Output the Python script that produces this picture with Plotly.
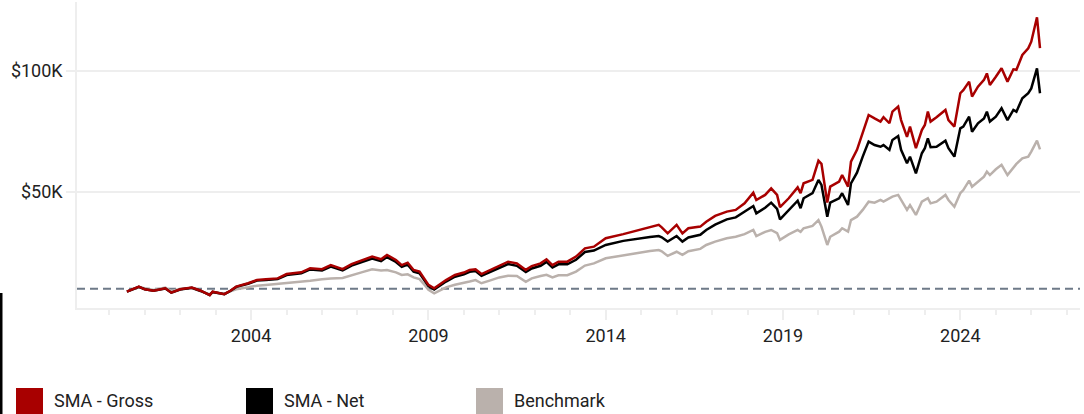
import plotly.graph_objects as go

# ---------------- data (values in $ thousands) ----------------
dates = [
    "2000-07", "2000-11", "2001-01", "2001-04", "2001-08", "2001-10", "2002-01", "2002-05",
    "2002-08", "2002-11", "2002-12", "2003-04", "2003-06", "2003-08", "2003-12", "2004-03",
    "2004-06", "2004-10", "2005-01", "2005-06", "2005-09", "2006-01", "2006-04", "2006-08",
    "2006-11",
    "2007-03", "2007-06", "2007-09", "2007-11", "2008-02", "2008-04", "2008-06", "2008-08",
    "2008-10", "2008-12", "2009-01", "2009-03", "2009-05", "2009-07", "2009-10", "2010-01",
    "2010-03", "2010-05", "2010-07", "2010-10", "2011-01", "2011-04", "2011-07", "2011-10",
    "2011-12", "2012-03", "2012-05", "2012-07", "2012-09", "2012-12", "2013-03", "2013-06",
    "2013-09",
    "2014-01", "2014-07", "2014-10", "2015-01", "2015-04", "2015-07", "2015-08", "2015-10",
    "2016-01", "2016-03", "2016-05", "2016-09", "2016-11", "2017-02", "2017-06", "2017-09",
    "2017-12", "2018-03", "2018-04", "2018-07", "2018-09", "2018-11", "2018-12", "2019-03",
    "2019-06", "2019-07", "2019-08", "2019-11",
    "2020-01", "2020-02", "2020-04", "2020-05", "2020-08", "2020-09", "2020-11", "2020-12",
    "2021-02", "2021-04", "2021-06", "2021-08", "2021-10", "2021-11", "2022-01", "2022-02",
    "2022-04", "2022-05", "2022-07", "2022-08", "2022-10", "2022-12", "2023-01", "2023-02",
    "2023-03", "2023-05", "2023-08", "2023-09", "2023-11", "2024-01", "2024-02", "2024-04",
    "2024-05", "2024-07", "2024-09", "2024-10", "2024-11", "2025-01", "2025-03", "2025-05",
    "2025-07", "2025-08", "2025-10", "2025-12", "2026-01", "2026-03", "2026-04",
]

sma_gross = [
    8.8, 10.9, 9.8, 9.2, 10.2, 8.4, 9.8, 10.5, 9.2, 7.4, 8.8, 7.8, 9.2, 10.9, 12.3, 13.6,
    13.9, 14.3, 16.1, 16.8, 18.5, 18.1, 19.8, 18.1, 20.2,
    21.9, 23.3, 22.2, 24.0, 21.9, 19.8, 20.8, 17.8, 17.1, 13.6, 11.6, 10.2, 12.0, 13.6, 15.7,
    16.7, 17.8, 18.1, 16.1, 17.8, 19.8, 21.2, 20.5, 17.8, 19.4, 20.5, 22.2, 19.8, 21.2, 21.2,
    23.3, 26.7, 27.4,
    30.9, 32.6, 33.6, 34.6, 35.4, 36.4, 35.4, 32.9, 36.4, 32.9, 35.0, 35.7, 37.7, 40.1, 41.9,
    42.6, 45.3, 49.7, 46.7, 48.8, 51.5, 48.8, 43.7, 47.4, 51.9, 49.5, 53.6, 55.0,
    62.9, 61.6, 45.6, 52.2, 54.3, 57.0, 52.2, 62.5, 67.4, 74.3, 81.8, 80.4, 79.1, 80.9, 78.4,
    83.2, 85.3, 79.7, 72.8, 77.0, 68.1, 75.6, 77.7, 83.2, 79.1, 80.9, 83.9, 79.7, 77.0, 90.8,
    92.1, 95.6, 89.4, 93.5, 96.3, 99.0, 94.2, 97.6, 101.1, 95.6, 100.7, 100.5, 106.6, 109.4,
    112.1, 122.2, 109.4,
]

sma_net = [
    8.8, 10.8, 9.8, 9.2, 10.1, 8.4, 9.7, 10.4, 9.1, 7.4, 8.7, 7.8, 9.1, 10.8, 12.1, 13.4,
    13.6, 14.0, 15.7, 16.4, 18.0, 17.6, 19.2, 17.6, 19.6,
    21.1, 22.5, 21.4, 23.1, 21.1, 19.1, 20.0, 17.1, 16.4, 13.1, 11.1, 9.7, 11.5, 13.0, 15.0,
    16.0, 17.0, 17.3, 15.4, 17.0, 18.9, 20.2, 19.5, 16.9, 18.4, 19.5, 21.1, 18.8, 20.1, 20.1,
    22.0, 25.2, 25.8,
    28.1, 29.8, 30.4, 30.9, 31.4, 31.8, 31.3, 29.5, 31.8, 29.5, 31.2, 32.3, 34.3, 36.5, 38.7,
    39.5, 41.9, 44.2, 41.2, 43.5, 45.6, 43.0, 38.7, 42.5, 46.4, 43.3, 47.4, 49.5,
    55.0, 52.9, 39.8, 45.6, 47.4, 49.5, 44.6, 53.6, 58.0, 64.6, 70.8, 69.4, 68.7, 69.4, 67.4,
    71.5, 73.1, 67.4, 61.9, 64.6, 57.7, 66.0, 68.1, 72.2, 68.5, 68.7, 71.2, 68.1, 64.6, 76.3,
    77.0, 81.1, 74.9, 78.4, 80.4, 83.2, 79.1, 81.1, 84.6, 79.7, 83.9, 83.2, 88.7, 90.8,
    92.8, 101.1, 90.8,
]

benchmark = [
    8.9, 10.6, 10.2, 9.5, 10.5, 9.0, 10.0, 10.3, 9.0, 7.8, 8.5, 8.0, 9.0, 9.8, 10.6, 11.3,
    11.6, 12.0, 12.5, 13.0, 13.3, 13.9, 14.3, 14.5, 15.7,
    17.0, 18.1, 17.6, 17.8, 16.8, 15.7, 16.0, 14.7, 14.0, 11.2, 9.6, 8.1, 9.4, 10.6, 11.7,
    12.3, 13.0, 13.6, 12.3, 13.5, 14.7, 15.4, 15.3, 12.9, 14.3, 15.3, 15.8, 14.7, 15.6, 15.6,
    17.1, 19.6, 20.5,
    22.6, 23.8, 24.5, 25.3, 25.6, 26.0, 25.5, 23.6, 25.3, 24.0, 25.5, 26.5, 28.1, 29.5, 30.9,
    31.5, 32.6, 34.3, 31.8, 33.5, 34.3, 33.0, 30.2, 32.5, 34.3, 33.5, 35.0, 36.0,
    38.4, 35.7, 28.1, 31.5, 33.6, 35.0, 33.6, 38.4, 39.8, 42.6, 46.0, 45.6, 46.7, 46.0, 47.4,
    48.1, 48.8, 46.7, 42.6, 44.6, 40.5, 46.0, 46.7, 47.4, 45.3, 46.0, 48.8, 46.7, 43.9, 49.5,
    50.8, 54.7, 52.2, 54.3, 56.3, 58.4, 57.0, 59.4, 61.2, 57.0, 59.8, 61.6, 63.9, 64.6,
    66.7, 71.2, 67.6,
]

baseline = 10000
series_names = ["SMA - Gross", "SMA - Net", "Benchmark"]
y_tickvals = [50000, 100000]
y_ticktext = ["$50K", "$100K"]
x_tickvals = ["2004-01-01", "2009-01-01", "2014-01-01", "2019-01-01", "2024-01-01"]
x_ticktext = ["2004", "2009", "2014", "2019", "2024"]

assert len(dates) == len(sma_gross) == len(sma_net) == len(benchmark)

# ---------------- styling ----------------
W, H = 1084, 414
ML, MR, MT, MB = 77, 4, 2, 106
PW, PH = W - ML - MR, H - MT - MB
RED, BLACK, GRAY = "#A80000", "#000000", "#BAB1AC"
GRID = "#EEEEEE"
TXT = "#222222"
FONT = "Roboto"


def px_x(px):
    return (px - ML) / PW


def px_y(py):
    return (H - MB - py) / PH


fig = go.Figure()
to_dollars = lambda vals: [v * 1000 for v in vals]
for name, vals, color in [
    (series_names[2], benchmark, GRAY),
    (series_names[1], sma_net, BLACK),
    (series_names[0], sma_gross, RED),
]:
    fig.add_trace(go.Scatter(
        x=dates, y=to_dollars(vals), name=name, mode="lines",
        line=dict(color=color, width=2.5), showlegend=False,
    ))

fig.add_hline(y=baseline, line=dict(color="#6E7A88", width=2, dash="8px,5px"), layer="below")

# manual legend (large squares)
legend_items = [(series_names[0], RED, 16), (series_names[1], BLACK, 246), (series_names[2], GRAY, 476)]
for name, color, x0 in legend_items:
    fig.add_shape(type="rect", xref="paper", yref="paper",
                  x0=px_x(x0), x1=px_x(x0 + 27), y0=px_y(388), y1=px_y(415),
                  fillcolor=color, line=dict(width=0), layer="above")
    fig.add_annotation(xref="paper", yref="paper", x=px_x(x0 + 36), y=px_y(400),
                       text=name, showarrow=False, xanchor="left", yanchor="middle",
                       font=dict(family=FONT, size=18, color=TXT))

# black edge bar at the left bottom
fig.add_shape(type="rect", xref="paper", yref="paper",
              x0=px_x(0), x1=px_x(2.5), y0=px_y(293), y1=px_y(416),
              fillcolor="#000000", line=dict(width=0))

fig.update_layout(
    width=W, height=H, autosize=False,
    margin=dict(l=ML, r=MR, t=MT, b=MB, pad=0),
    paper_bgcolor="white", plot_bgcolor="white",
    font=dict(family=FONT, size=18, color=TXT),
    xaxis=dict(
        type="date", range=["1999-02-03", "2027-05-18"],
        tickvals=x_tickvals, ticktext=x_ticktext,
        ticks="outside", ticklen=10, tickwidth=2, tickcolor=GRID,
        minor=dict(dtick="M12", tick0="2000-01-01", ticks="outside", ticklen=5,
                   tickwidth=2, tickcolor=GRID, showgrid=False),
        showgrid=False, zeroline=False,
        showline=True, linecolor=GRID, linewidth=2,
        tickfont=dict(family=FONT, size=18, color=TXT),
    ),
    yaxis=dict(
        range=[2066, 128500],
        tickvals=y_tickvals, ticktext=y_ticktext,
        ticks="outside", ticklen=9, tickwidth=2, tickcolor=GRID,
        showgrid=True, gridcolor=GRID, gridwidth=2,
        zeroline=False, showline=True, linecolor=GRID, linewidth=1.5,
        tickfont=dict(family=FONT, size=18, color=TXT),
    ),
    hovermode="x unified",
)

fig.write_html("out.html", config={"displayModeBar": False},
               post_script="document.body.style.margin='0px';")
